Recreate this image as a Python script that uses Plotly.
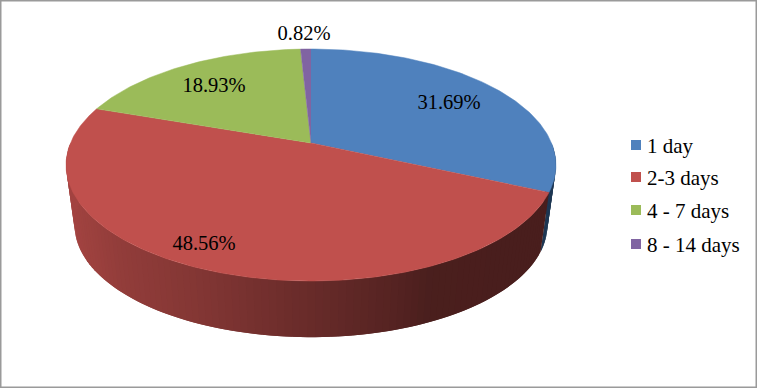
import numpy as np
import plotly.graph_objects as go

# Data
categories = ["1 day", "2-3 days", "4 - 7 days", "8 - 14 days"]
values = [31.69, 48.56, 18.93, 0.82]
colors = ["#4f81bd", "#c0504d", "#9bbb59", "#8064a2"]
wall_colors = [(70, 125, 190), (192, 80, 77), (155, 187, 89), (128, 100, 162)]

# Drawing geometry (screen px of the 757x388 frame)
W, H = 757, 388
CX, APEX_Y = 311, 143
C, B, K = 240.5, 84.7, 0.1897
DROP, SHRINK = 61, 0.965
SERIF = "Liberation Serif"


def project(theta, bottom=False):
    u, v = np.sin(theta), np.cos(theta)
    w = 1 + K * v
    x, y = C * u / w, (APEX_Y - B * v) / w - APEX_Y
    if bottom:
        return CX + SHRINK * x, APEX_Y + DROP + SHRINK * y
    return CX + x, APEX_Y + y


def shade(x):
    return float(np.interp(x, [66, 120, 200, 280, 400, 430, 556],
                           [0.85, 0.76, 0.68, 0.58, 0.44, 0.39, 0.38]))


edges = np.radians(np.concatenate([[0], np.cumsum(values)]) * 3.6)
edges[-1] = 2 * np.pi
fig = go.Figure()

# Side wall strips: drawn with an overlap and no outline so no seams show
for i, col in enumerate(wall_colors):
    a0, a1 = max(edges[i], np.pi / 2), min(edges[i + 1], 1.5 * np.pi)
    if a1 <= a0:
        continue
    n = max(1, int(np.degrees(a1 - a0) / 1.5))
    t = np.linspace(a0, a1, n + 1)
    for j in range(n):
        tt = np.linspace(t[j], min(t[j] + 2 * (t[1] - t[0]), a1), 4)
        xt, yt = project(tt)
        xb, yb = project(tt, True)
        f = 0.44 if i == 0 else shade(project(t[j:j + 2])[0].mean())
        c = "rgb(%d,%d,%d)" % tuple(int(q * f) for q in col)
        fig.add_trace(go.Scatter(
            x=np.r_[xt, xb[::-1]], y=np.r_[yt, yb[::-1]], mode="lines",
            fill="toself", fillcolor=c, line=dict(width=0),
            hoverinfo="skip", showlegend=False))

# Top faces
for i, col in enumerate(colors):
    t = np.linspace(edges[i], edges[i + 1], max(3, int(np.degrees(edges[i + 1] - edges[i])) + 1))
    x, y = project(t)
    fig.add_trace(go.Scatter(
        x=np.r_[CX, x], y=np.r_[APEX_Y, y], mode="lines", fill="toself",
        fillcolor=col, line=dict(color=col, width=0.5),
        name=categories[i], hoverinfo="skip", showlegend=False))

# Percent labels
label_x = [449, 204, 214, 304]
label_y = [103.5, 244.5, 86.5, 35]
fig.add_trace(go.Scatter(
    x=label_x, y=label_y, mode="text", text=[f"{v:.2f}%" for v in values],
    textfont=dict(family=SERIF, size=20.5, color="#000"),
    hoverinfo="skip", showlegend=False))

# Legend
legend_x = 636
legend_y = [145, 177, 210, 244]
label_dx = 10
for name, col, ly in zip(categories, colors, legend_y):
    fig.add_trace(go.Scatter(
        x=[legend_x], y=[ly], mode="markers", marker=dict(symbol="square", size=10, color=col),
        hoverinfo="skip", showlegend=False))
    fig.add_annotation(x=legend_x + label_dx, y=ly + 0.5, text=name, showarrow=False,
                       xanchor="left", yanchor="middle", xshift=-1,
                       font=dict(family=SERIF, size=21, color="#000"))

fig.update_layout(
    width=W, height=H, margin=dict(l=0, r=0, t=0, b=0),
    paper_bgcolor="white", plot_bgcolor="white",
    xaxis=dict(range=[0, W], visible=False, fixedrange=True),
    yaxis=dict(range=[H, 0], visible=False, fixedrange=True),
    shapes=[dict(type="rect", xref="paper", yref="paper", x0=0, y0=0, x1=1, y1=1,
                 line=dict(color="#9a9a9a", width=3))],
)
fig.write_html("out.html", config={"displayModeBar": False},
               post_script="document.body.style.margin='0';document.documentElement.style.overflow='hidden';")
